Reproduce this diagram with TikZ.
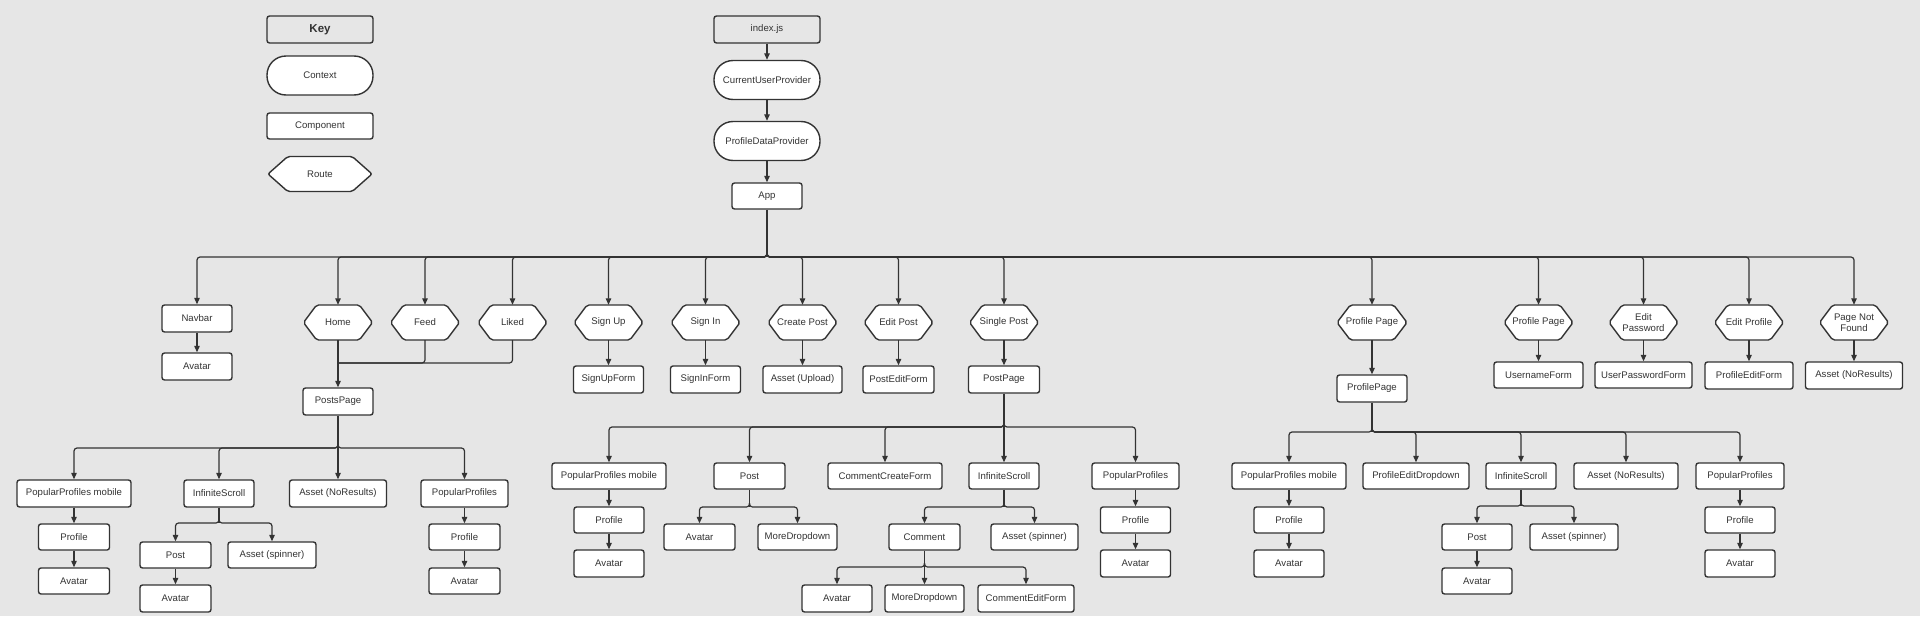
\documentclass[tikz,border=0pt]{standalone}
\usepackage{fontspec}
\setmainfont{Liberation Sans}
\usetikzlibrary{arrows.meta}
\definecolor{bgc}{HTML}{E6E6E6}
\definecolor{lc}{HTML}{333333}
\definecolor{tc}{HTML}{333333}
\newcommand{\hexnode}[5]{%
  \filldraw[hexline] ({#2-#4/2},#3) -- ({#2-#4/2+0.19*#4},{#3-17.5}) -- ({#2+#4/2-0.19*#4},{#3-17.5}) -- ({#2+#4/2},#3) -- ({#2+#4/2-0.19*#4},{#3+17.5}) -- ({#2-#4/2+0.19*#4},{#3+17.5}) -- cycle;
  \node[hextext] (#1) at (#2,#3) {#5};}
% stem drawn once, branches start just above the bus so the junction is rounded
\newcommand{\stem}[2]{\draw[conn] (#1.south) -- (#1.south |- #2);}
\newcommand{\busarr}[3]{\draw[arr] ([yshift=4pt]#1.south |- #2) -- (#1.south |- #2) -| (#3.north);}
\newcommand{\downarr}[2]{\draw[arr] (#1.south) -- (#2.north);}
\begin{document}
\begin{tikzpicture}[x=1pt, y=-1pt,
  txt/.style={text=tc, font=\fontsize{9.6}{11.5}\selectfont},
  box/.style={txt, draw=lc, fill=white, line width=1.4pt, rounded corners=2.5pt, inner sep=0pt, minimum height=26pt},
  ctxbox/.style={box, rounded corners=19pt, minimum height=39pt},
  hexline/.style={draw=lc, fill=white, line width=1.4pt, rounded corners=2pt},
  hextext/.style={txt, inner sep=0pt, minimum height=35pt, align=center},
  conn/.style={draw=lc, line width=1.2pt, rounded corners=3pt},
  arr/.style={conn, -{Triangle[length=6.5pt,width=5.5pt]}},
]
\fill[bgc] (0,0) rectangle (1920,616);
\useasboundingbox (0,0) rectangle (1920,616);

% ---------- legend ----------
\node[box, minimum width=106pt, minimum height=27pt, font=\fontsize{11.5}{13}\selectfont\bfseries, fill=bgc] (key) at (320,29.5) {Key};
\node[ctxbox, minimum width=106pt] (ctxkey) at (320,75.5) {Context};
\node[box, minimum width=106pt] (compkey) at (320,126) {Component};
\hexnode{routekey}{320}{174}{104}{Route}

% ---------- top chain ----------
\node[box, minimum width=106pt, minimum height=27pt, fill=bgc] (index) at (767,29.5) {index.js};
\node[ctxbox, minimum width=106pt] (cup) at (767,80) {CurrentUserProvider};
\node[ctxbox, minimum width=106pt] (pdp) at (767,141) {ProfileDataProvider};
\node[box, minimum width=70pt] (app) at (767,196) {App};

\coordinate (bA) at (0,257);

% ---------- row 1 ----------
\node[box, minimum width=70pt, minimum height=27pt] (navbar) at (197,318.5) {Navbar};
\node[box, minimum width=70pt, minimum height=27pt] (navav) at (197,366.5) {Avatar};
\hexnode{home}{338}{322.5}{69}{Home}
\hexnode{feed}{425}{322.5}{69}{Feed}
\hexnode{liked}{512.5}{322.5}{69}{Liked}
\hexnode{signup}{608.5}{322.5}{69}{Sign Up}
\hexnode{signin}{705.5}{322.5}{69}{Sign In}
\hexnode{createpost}{802.5}{322.5}{69}{Create Post}
\hexnode{editpost}{898.5}{322.5}{69}{Edit Post}
\hexnode{singlepost}{1004}{322.5}{69}{Single Post}
\hexnode{profpage}{1372}{322.5}{70}{Profile Page}
\hexnode{profpagetwo}{1538.5}{322.5}{69}{Profile Page}
\hexnode{editpw}{1643.5}{322.5}{69}{Edit\\Password}
\hexnode{editprof}{1749}{322.5}{69}{Edit Profile}
\hexnode{notfound}{1854}{322.5}{69}{Page Not\\Found}

% ---------- row 2 ----------
\node[box, minimum width=70pt, minimum height=27pt] (postspage) at (338,401.5) {PostsPage};
\node[box, minimum width=70pt, minimum height=27pt] (signupform) at (608.5,379.5) {SignUpForm};
\node[box, minimum width=70pt, minimum height=27pt] (signinform) at (705.5,379.5) {SignInForm};
\node[box, minimum width=79pt, minimum height=27pt] (assetupload) at (802.5,379.5) {Asset (Upload)};
\node[box, minimum width=71pt, minimum height=27pt] (posteditform) at (898.5,379.5) {PostEditForm};
\node[box, minimum width=71pt, minimum height=27pt] (postpage) at (1004,379.5) {PostPage};
\node[box, minimum width=70pt, minimum height=27pt] (profilepage) at (1372,388.5) {ProfilePage};
\node[box, minimum width=89pt] (usernameform) at (1538.5,375) {UsernameForm};
\node[box, minimum width=97pt] (userpwform) at (1643.5,375) {UserPasswordForm};
\node[box, minimum width=88pt, minimum height=27pt] (profeditform) at (1749,375.5) {ProfileEditForm};
\node[box, minimum width=97pt, minimum height=27pt] (nfasset) at (1854,375.5) {Asset (NoResults)};

% ---------- PostsPage subtree ----------
\coordinate (bB) at (0,448);
\coordinate (bBs) at (0,523);
\node[box, minimum width=114pt, minimum height=27pt] (ppmA) at (74,493.5) {PopularProfiles mobile};
\node[box, minimum width=71pt] (profA) at (74,537) {Profile};
\node[box, minimum width=71pt] (avA) at (74,581) {Avatar};
\node[box, minimum width=70pt, minimum height=27pt] (isA) at (219,493.5) {InfiniteScroll};
\node[box, minimum width=71pt] (postA) at (175.5,555) {Post};
\node[box, minimum width=71pt, minimum height=27pt] (avAb) at (175.5,598.5) {Avatar};
\node[box, minimum width=88pt] (spinA) at (272,555) {Asset (spinner)};
\node[box, minimum width=97pt, minimum height=27pt] (noresA) at (338,493.5) {Asset (NoResults)};
\node[box, minimum width=87pt, minimum height=27pt] (ppA) at (464.5,493.5) {PopularProfiles};
\node[box, minimum width=71pt] (profAb) at (464.5,537) {Profile};
\node[box, minimum width=71pt] (avAc) at (464.5,581) {Avatar};

% ---------- PostPage subtree ----------
\coordinate (bC) at (0,427);
\coordinate (bCs) at (0,507);
\coordinate (bCc) at (0,567);
\node[box, minimum width=114pt] (ppmB) at (609,476) {PopularProfiles mobile};
\node[box, minimum width=70pt] (profB) at (609,520) {Profile};
\node[box, minimum width=70pt, minimum height=27pt] (avB) at (609,563.5) {Avatar};
\node[box, minimum width=71pt] (postB) at (749.5,476) {Post};
\node[box, minimum width=71pt] (avBb) at (699.5,537) {Avatar};
\node[box, minimum width=79pt] (mdB) at (797.5,537) {MoreDropdown};
\node[box, minimum width=114pt] (ccf) at (885,476) {CommentCreateForm};
\node[box, minimum width=70pt] (isB) at (1004,476) {InfiniteScroll};
\node[box, minimum width=71pt] (comment) at (924.5,537) {Comment};
\node[box, minimum width=87pt] (spinB) at (1034.5,537) {Asset (spinner)};
\node[box, minimum width=70pt, minimum height=27pt] (avBc) at (837,598.5) {Avatar};
\node[box, minimum width=79pt, minimum height=27pt] (mdBb) at (924.5,598.5) {MoreDropdown};
\node[box, minimum width=96pt, minimum height=27pt] (cef) at (1026,598.5) {CommentEditForm};
\node[box, minimum width=87pt] (ppB) at (1135.5,476) {PopularProfiles};
\node[box, minimum width=70pt] (profBb) at (1135.5,520) {Profile};
\node[box, minimum width=70pt, minimum height=27pt] (avBd) at (1135.5,563.5) {Avatar};

% ---------- ProfilePage subtree ----------
\coordinate (bD) at (0,432);
\coordinate (bDs) at (0,506);
\node[box, minimum width=114pt] (ppmC) at (1289,476) {PopularProfiles mobile};
\node[box, minimum width=70pt] (profC) at (1289,520) {Profile};
\node[box, minimum width=70pt, minimum height=27pt] (avC) at (1289,563.5) {Avatar};
\node[box, minimum width=106pt] (ped) at (1416,476) {ProfileEditDropdown};
\node[box, minimum width=70pt] (isC) at (1521,476) {InfiniteScroll};
\node[box, minimum width=70pt] (postC) at (1477,537) {Post};
\node[box, minimum width=70pt] (avCb) at (1477,581) {Avatar};
\node[box, minimum width=88pt] (spinC) at (1574,537) {Asset (spinner)};
\node[box, minimum width=104pt] (noresC) at (1626,476) {Asset (NoResults)};
\node[box, minimum width=88pt] (ppC) at (1740,476) {PopularProfiles};
\node[box, minimum width=70pt] (profCb) at (1740,520) {Profile};
\node[box, minimum width=70pt, minimum height=27pt] (avCc) at (1740,563.5) {Avatar};

% ---------- connectors ----------
\downarr{index}{cup}
\downarr{cup}{pdp}
\downarr{pdp}{app}
\stem{app}{bA}
\foreach \c in {navbar,home,feed,liked,signup,signin,createpost,editpost,singlepost,profpage,profpagetwo,editpw,editprof,notfound}{\busarr{app}{bA}{\c}}

\downarr{navbar}{navav}
\coordinate (mrg) at (338,363);
\draw[conn] (feed.south) |- (mrg);
\draw[conn] (liked.south) |- (mrg);
\downarr{home}{postspage}
\downarr{signup}{signupform}
\downarr{signin}{signinform}
\downarr{createpost}{assetupload}
\downarr{editpost}{posteditform}
\downarr{singlepost}{postpage}
\downarr{profpage}{profilepage}
\downarr{profpagetwo}{usernameform}
\downarr{editpw}{userpwform}
\downarr{editprof}{profeditform}
\downarr{notfound}{nfasset}

% PostsPage
\downarr{postspage}{noresA}
\busarr{postspage}{bB}{ppmA}
\busarr{postspage}{bB}{isA}
\busarr{postspage}{bB}{ppA}
\downarr{ppmA}{profA}
\downarr{profA}{avA}
\stem{isA}{bBs}
\busarr{isA}{bBs}{postA}
\busarr{isA}{bBs}{spinA}
\downarr{postA}{avAb}
\downarr{ppA}{profAb}
\downarr{profAb}{avAc}

% PostPage
\downarr{postpage}{isB}
\busarr{postpage}{bC}{ppmB}
\busarr{postpage}{bC}{postB}
\busarr{postpage}{bC}{ccf}
\busarr{postpage}{bC}{ppB}
\downarr{ppmB}{profB}
\downarr{profB}{avB}
\stem{postB}{bCs}
\busarr{postB}{bCs}{avBb}
\busarr{postB}{bCs}{mdB}
\stem{isB}{bCs}
\busarr{isB}{bCs}{comment}
\busarr{isB}{bCs}{spinB}
\downarr{comment}{mdBb}
\busarr{comment}{bCc}{avBc}
\busarr{comment}{bCc}{cef}
\downarr{ppB}{profBb}
\downarr{profBb}{avBd}

% ProfilePage
\stem{profilepage}{bD}
\foreach \c in {ppmC,ped,isC,noresC,ppC}{\busarr{profilepage}{bD}{\c}}
\downarr{ppmC}{profC}
\downarr{profC}{avC}
\stem{isC}{bDs}
\busarr{isC}{bDs}{postC}
\busarr{isC}{bDs}{spinC}
\downarr{postC}{avCb}
\downarr{ppC}{profCb}
\downarr{profCb}{avCc}
\end{tikzpicture}
\end{document}
